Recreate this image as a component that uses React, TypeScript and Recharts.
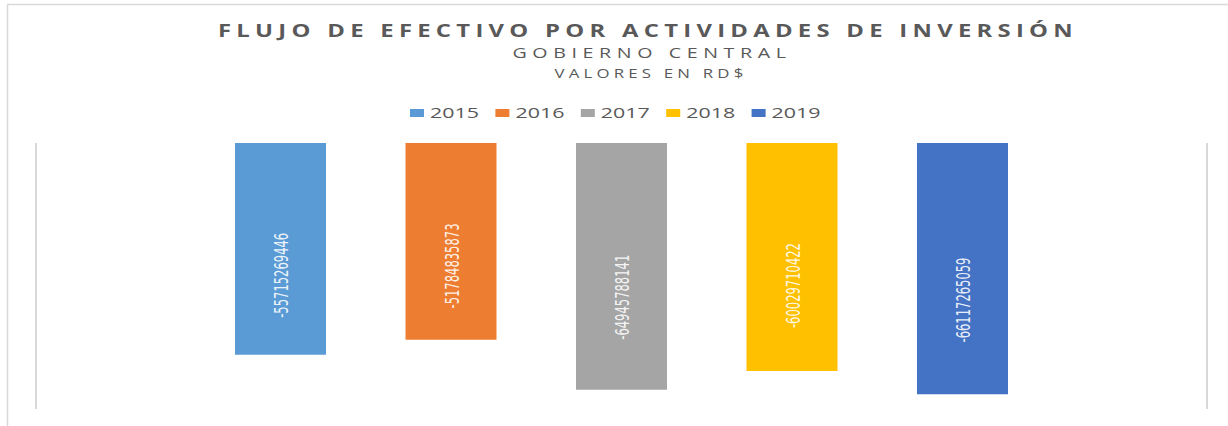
import React from "react";
import { BarChart, Bar, XAxis, YAxis, LabelList, CartesianGrid } from "recharts";

// datos
const category = "Gobierno Central";
const years = ["2015", "2016", "2017", "2018", "2019"];
const values = [-55715269446, -51784835873, -64945788141, -60029710422, -66117265059];
const colors = ["#5B9BD5", "#ED7D31", "#A5A5A5", "#FFC000", "#4472C4"];

const titleLines = ["FLUJO DE EFECTIVO POR ACTIVIDADES DE INVERSIÓN", "GOBIERNO CENTRAL", "VALORES EN RD$"];

const data = [
  years.reduce((row: any, y, i) => {
    row[y] = values[i];
    return row;
  }, { name: category }),
];

const W = 1228;
const H = 426;
const grey = "#595959";
const gridGrey = "#d9d9d9";

// etiqueta vertical dentro de la barra
const VerticalLabel = (props: any) => {
  const { x, y, width, height, value } = props;
  const top = Math.min(y, y + height);
  const h = Math.abs(height);
  const cx = x + width / 2 + 1;
  const cy = top + h * 0.625;
  return (
    <text
      x={cx}
      y={cy}
      transform={`rotate(-90, ${cx}, ${cy})`}
      textAnchor="middle"
      dominantBaseline="central"
      fill="#ffffff"
      fillOpacity={0.9}
      fontFamily="'Liberation Sans Narrow', 'DejaVu Sans Condensed', 'Liberation Sans', sans-serif"
      fontSize={20}
      textLength={85}
      lengthAdjust="spacingAndGlyphs"
    >
      {String(value)}
    </text>
  );
};

const Overlay = () => (
  <svg
    width={W}
    height={H}
    style={{ position: "absolute", left: 0, top: 0, pointerEvents: "none" }}
  >
    {/* marco exterior */}
    <line x1={7} y1={4.5} x2={W} y2={4.5} stroke={gridGrey} strokeWidth={1.5} />
    <line x1={7.5} y1={4} x2={7.5} y2={H} stroke={gridGrey} strokeWidth={1.5} />

    {/* títulos */}
    <text
      x={648}
      y={37}
      textAnchor="middle"
      fill={grey}
      fontFamily="'Open Sans', 'Liberation Sans', sans-serif"
      fontWeight="bold"
      fontSize={18}
      letterSpacing={4}
      textLength={860}
      lengthAdjust="spacingAndGlyphs"
    >
      {titleLines[0]}
    </text>
    <text
      x={652}
      y={58}
      textAnchor="middle"
      fill={grey}
      fontFamily="'Open Sans', 'Liberation Sans', sans-serif"
      fontSize={14}
      letterSpacing={4}
      textLength={279}
      lengthAdjust="spacingAndGlyphs"
    >
      {titleLines[1]}
    </text>
    <text
      x={651}
      y={78}
      textAnchor="middle"
      fill={grey}
      fontFamily="'Open Sans', 'Liberation Sans', sans-serif"
      fontSize={12}
      letterSpacing={3}
      textLength={193}
      lengthAdjust="spacingAndGlyphs"
    >
      {titleLines[2]}
    </text>

    {/* leyenda */}
    {years.map((y, i) => {
      const lx = 410 + i * 85.4;
      return (
        <g key={y}>
          <rect x={lx} y={109} width={14} height={8} fill={colors[i]} />
          <text
            x={lx + 20}
            y={118}
            fill={grey}
            fontFamily="'Open Sans', 'Liberation Sans', sans-serif"
            fontSize={15}
            textLength={49}
            lengthAdjust="spacingAndGlyphs"
          >
            {y}
          </text>
        </g>
      );
    })}
  </svg>
);

const App = () => (
  <div style={{ position: "absolute", left: 0, top: 0, width: W, height: H, background: "#fff" }}>
    <BarChart
      width={W}
      height={H}
      data={data}
      margin={{ top: 143, right: 21, bottom: 17, left: 36 }}
      barGap={79.5}
      barSize={91}
    >
      {/* líneas verticales en los bordes del área de trazado */}
      <CartesianGrid
        horizontal={false}
        stroke={gridGrey}
        strokeWidth={2}
        verticalCoordinatesGenerator={({ offset }: any) => [offset.left, offset.left + offset.width]}
      />
      <XAxis dataKey="name" hide />
      <YAxis domain={[-70000000000, 0]} hide />
      {years.map((y, i) => (
        <Bar key={y} dataKey={y} fill={colors[i]} isAnimationActive={false}>
          <LabelList dataKey={y} content={VerticalLabel} />
        </Bar>
      ))}
    </BarChart>
    <Overlay />
  </div>
);

export default App;
